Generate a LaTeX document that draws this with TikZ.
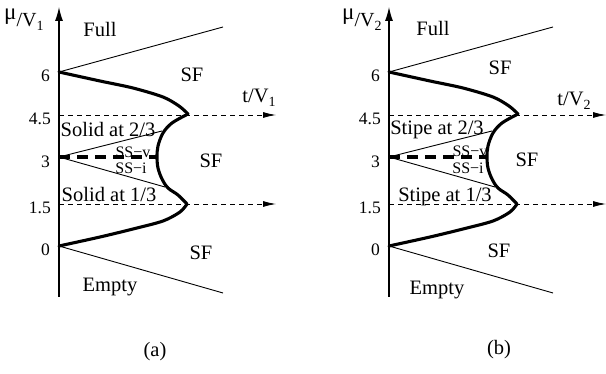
\documentclass[tikz,border=0pt]{standalone}
\usepackage{fontspec}
\setmainfont{Liberation Serif}
\usetikzlibrary{arrows.meta}
\begin{document}
\begin{tikzpicture}[x=1pt,y=-1pt,
  lbl/.style={font=\fontsize{20.5}{24}\selectfont, inner sep=0pt, anchor=base},
  small/.style={font=\fontsize{16}{19}\selectfont, inner sep=0pt, anchor=base},
  ticklbl/.style={font=\fontsize{17.5}{20}\selectfont, inner sep=0pt, anchor=base east},
  axisline/.style={line width=1.1pt, -{Latex[length=14pt,width=8pt]}},
  thinline/.style={line width=0.9pt},
  thickline/.style={line width=3.1pt, line join=round, line cap=round},
  thickdash/.style={line width=3.2pt, dash pattern=on 11pt off 7pt},
  dasharrow/.style={line width=0.8pt, dash pattern=on 5pt off 4pt, -{Latex[length=13pt,width=6pt]}}
]
\useasboundingbox (0,0) rectangle (606,374);

% ---------- common drawing ----------
\foreach \dx/\tag in {0/a,330/b}{
\begin{scope}[xshift=\dx pt]
  \coordinate (bot\tag) at (59,297);
  \coordinate (top\tag) at (59,7);
  \coordinate (m6\tag) at (59,72);
  \coordinate (m3\tag) at (59,157);
  \coordinate (m0\tag) at (59,246);
  \coordinate (h45\tag) at (59,115);
  \coordinate (h15\tag) at (59,204);
  \coordinate (e45\tag) at (276,115);
  \coordinate (e15\tag) at (276,204);
  \coordinate (ue\tag) at (223,27);
  \coordinate (le\tag) at (223,293);
  \coordinate (uj\tag) at (162,131);
  \coordinate (lj\tag) at (165,187);
  \coordinate (dj\tag) at (157,157);
  \draw[axisline] (bot\tag) -- (top\tag);
  \draw[thinline] (m6\tag) -- (ue\tag);
  \draw[thinline] (m0\tag) -- (le\tag);
  \draw[dasharrow] (h45\tag) -- (e45\tag);
  \draw[dasharrow] (h15\tag) -- (e15\tag);
  \draw[thinline] (m3\tag) -- (uj\tag);
  \draw[thinline] (m3\tag) -- (lj\tag);
  \draw[thickdash] (m3\tag) -- (dj\tag);
  \draw[thickline] plot[smooth,tension=0.5] coordinates {(59,72) (100,81) (133,88) (163,97) (179,106) (188,114)};
  \draw[thickline] plot[smooth,tension=0.55] coordinates {(188,114) (172,123) (163,133) (158,146) (157,157) (158,168) (162,179) (168,188) (178,195) (187,204)};
  \draw[thickline] plot[smooth,tension=0.5] coordinates {(187,204) (180,212) (163,221) (133,229) (100,237) (59,246)};
  \node[ticklbl] (t6\tag) at (50,82) {6};
  \node[ticklbl] (t45\tag) at (51,125) {4.5};
  \node[ticklbl] (t3\tag) at (50,168) {3};
  \node[ticklbl] (t15\tag) at (51,214) {1.5};
  \node[ticklbl] (t0\tag) at (50,256) {0};
\end{scope}
}

% ---------- panel (a) labels ----------
\node[inner sep=0pt, anchor=base west] (mua) at (4,20) {\fontsize{23}{24}\selectfont μ\raisebox{-7pt}{\fontsize{20}{24}\selectfont /V\raisebox{-4pt}{\fontsize{14}{16}\selectfont 1}}};
\node[lbl] (fulla) at (100,37) {Full};
\node[lbl] (sf1a) at (192,82) {SF};
\node[lbl] (tva) at (259,103) {t/V\raisebox{-4pt}{\fontsize{14}{16}\selectfont 1}};
\node[lbl] (s23a) at (108,137) {Solid at 2/3};
\node[small] (ssva) at (133,158) {SS−v};
\node[small] (ssia) at (131,174) {SS−i};
\node[lbl] (sf2a) at (211,168) {SF};
\node[lbl] (s13a) at (109,202) {Solid at 1/3};
\node[lbl] (sf3a) at (201,260) {SF};
\node[lbl] (emptya) at (110,292) {Empty};
\node[lbl] (capa) at (155,357) {(a)};

% ---------- panel (b) labels ----------
\node[inner sep=0pt, anchor=base west] (mub) at (342,20) {\fontsize{23}{24}\selectfont μ\raisebox{-7pt}{\fontsize{20}{24}\selectfont /V\raisebox{-4pt}{\fontsize{14}{16}\selectfont 2}}};
\node[lbl] (fullb) at (433,36) {Full};
\node[lbl] (sf1b) at (500,75) {SF};
\node[lbl] (tvb) at (574,106) {t/V\raisebox{-4pt}{\fontsize{14}{16}\selectfont 2}};
\node[lbl] (s23b) at (437,135) {Stipe at 2/3};
\node[small] (ssvb) at (470,157) {SS−v};
\node[small] (ssib) at (468,174) {SS−i};
\node[lbl] (sf2b) at (527,167) {SF};
\node[lbl] (s13b) at (445,202) {Stipe at 1/3};
\node[lbl] (sf3b) at (499,258) {SF};
\node[lbl] (emptyb) at (437,295) {Empty};
\node[lbl] (capb) at (499,355) {(b)};
\end{tikzpicture}
\end{document}
